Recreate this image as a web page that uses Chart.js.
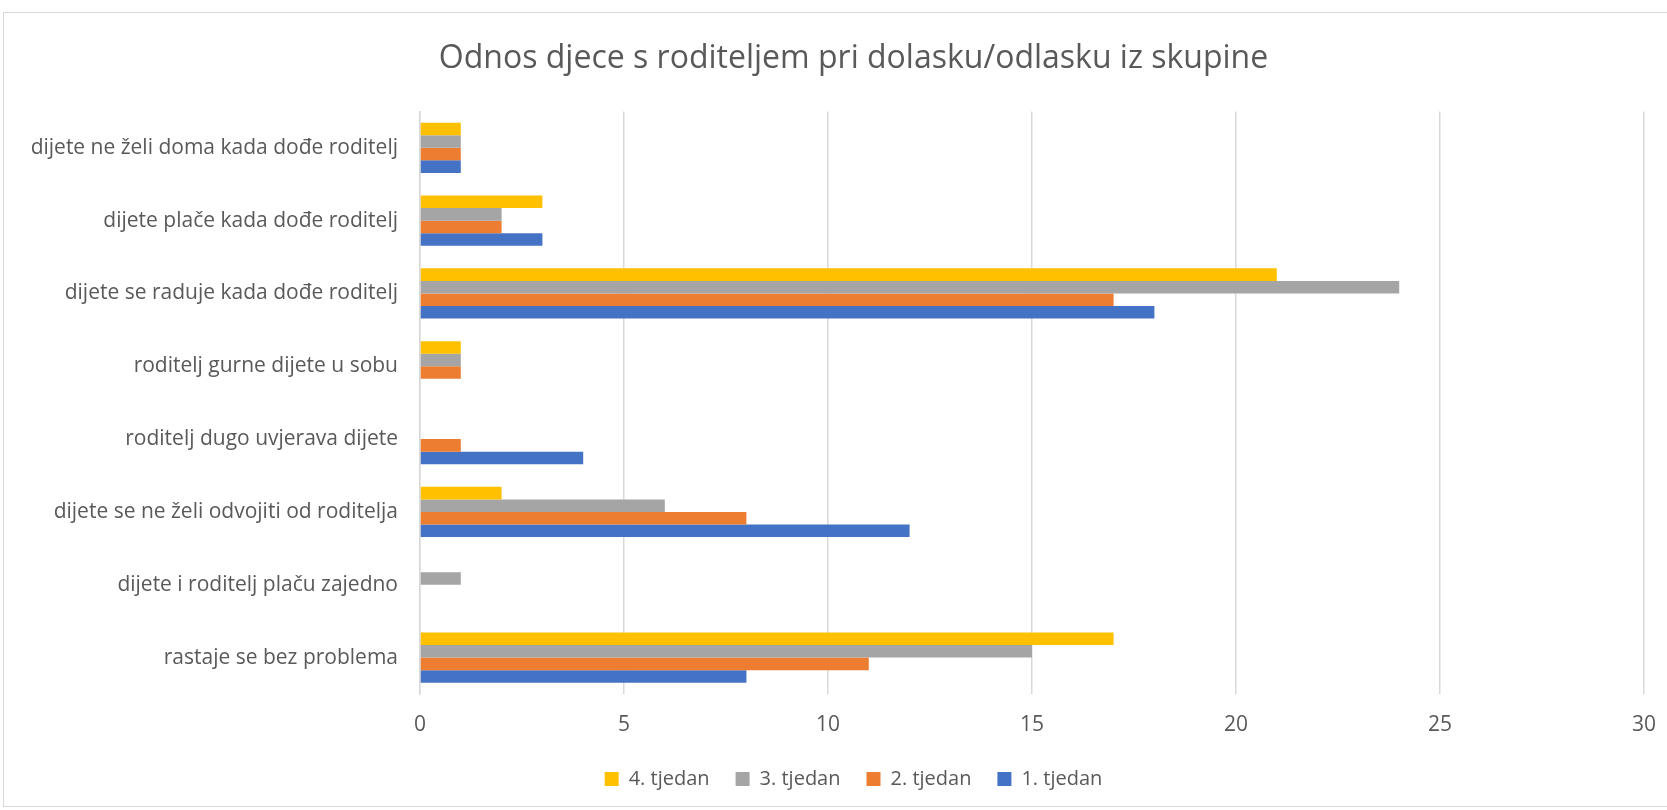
<!DOCTYPE html>
<html>
<head>
<meta charset="utf-8">
<script src="https://cdn.jsdelivr.net/npm/chart.js@4"></script>
<style>
  html, body { margin: 0; padding: 0; background: #fff; }
  #wrap { position: relative; width: 1667px; height: 810px; overflow: hidden; }
  #frame { position: absolute; left: 3px; top: 12px; width: 1700px; height: 795px; border: 1px solid #d9d9d9; box-sizing: border-box; }
  canvas { position: absolute; left: 0; top: 0; }
</style>
</head>
<body>
<div id="wrap">
  <div id="frame"></div>
  <canvas id="chart" width="1667" height="810"></canvas>
</div>
<script>
// categories, top to bottom as in the picture
const categories = [
  "dijete ne želi doma kada dođe roditelj",
  "dijete plače kada dođe roditelj",
  "dijete se raduje kada dođe roditelj",
  "roditelj gurne dijete u sobu",
  "roditelj dugo uvjerava dijete",
  "dijete se ne želi odvojiti od roditelja",
  "dijete i roditelj plaču zajedno",
  "rastaje se bez problema"
];

const week4 = [1, 3, 21, 1, 0, 2, 0, 17];
const week3 = [1, 2, 24, 1, 0, 6, 1, 15];
const week2 = [1, 2, 17, 1, 1, 8, 0, 11];
const week1 = [1, 3, 18, 0, 4, 12, 0, 8];

const seriesLabels = ["4. tjedan", "3. tjedan", "2. tjedan", "1. tjedan"];
const seriesColors = ["#FFC000", "#A5A5A5", "#ED7D31", "#4472C4"];
const xTicks = [0, 5, 10, 15, 20, 25, 30];

const fontFamily = "'Open Sans', 'Liberation Sans', sans-serif";
const textColor = "#595959";

// the frame of the original is wider than the window, so title and legend sit a bit right of centre
const shiftBlocks = {
  id: 'shiftBlocks',
  afterLayout(chart) {
    const d = 20;
    [chart.titleBlock, chart.legend].forEach(b => {
      if (b) { b.left += d; b.right += d; }
    });
  }
};

const ctx = document.getElementById('chart').getContext('2d');

new Chart(ctx, {
  type: "bar",
  data: {
    labels: categories,
    datasets: [week4, week3, week2, week1].map((vals, i) => ({
      label: seriesLabels[i],
      data: vals,
      backgroundColor: seriesColors[i],
      borderWidth: 0,
      categoryPercentage: 0.69,
      barPercentage: 1.0
    }))
  },
  options: {
    indexAxis: "y",
    responsive: false,
    animation: false,
    layout: { padding: { left: 0, right: 0, top: 0, bottom: 11 } },
    plugins: {
      title: {
        display: true,
        text: "Odnos djece s roditeljem pri dolasku/odlasku iz skupine",
        color: textColor,
        font: { family: fontFamily, size: 32, weight: "normal", lineHeight: 1.2 },
        padding: { top: 40, bottom: 33 }
      },
      legend: {
        position: "bottom",
        labels: {
          color: textColor,
          font: { family: fontFamily, size: 20 },
          boxWidth: 14,
          boxHeight: 14,
          padding: 26
        }
      },
      tooltip: { enabled: false }
    },
    scales: {
      x: {
        min: 0,
        max: 30,
        afterBuildTicks: (axis) => { axis.ticks = xTicks.map(v => ({ value: v })); },
        afterFit: (axis) => { axis.height = 49; axis.paddingRight = 23; },
        ticks: {
          color: textColor,
          font: { family: fontFamily, size: 21 },
          padding: 18
        },
        grid: { color: "#d9d9d9", lineWidth: 1.5, drawTicks: false },
        border: { display: false }
      },
      y: {
        afterFit: (axis) => { axis.width = 420; },
        ticks: {
          color: textColor,
          font: { family: fontFamily, size: 21 },
          padding: 22
        },
        grid: { display: false, drawTicks: false },
        border: { display: true, color: "#d9d9d9", width: 1.5 }
      }
    }
  },
  plugins: [shiftBlocks]
});
</script>
</body>
</html>
